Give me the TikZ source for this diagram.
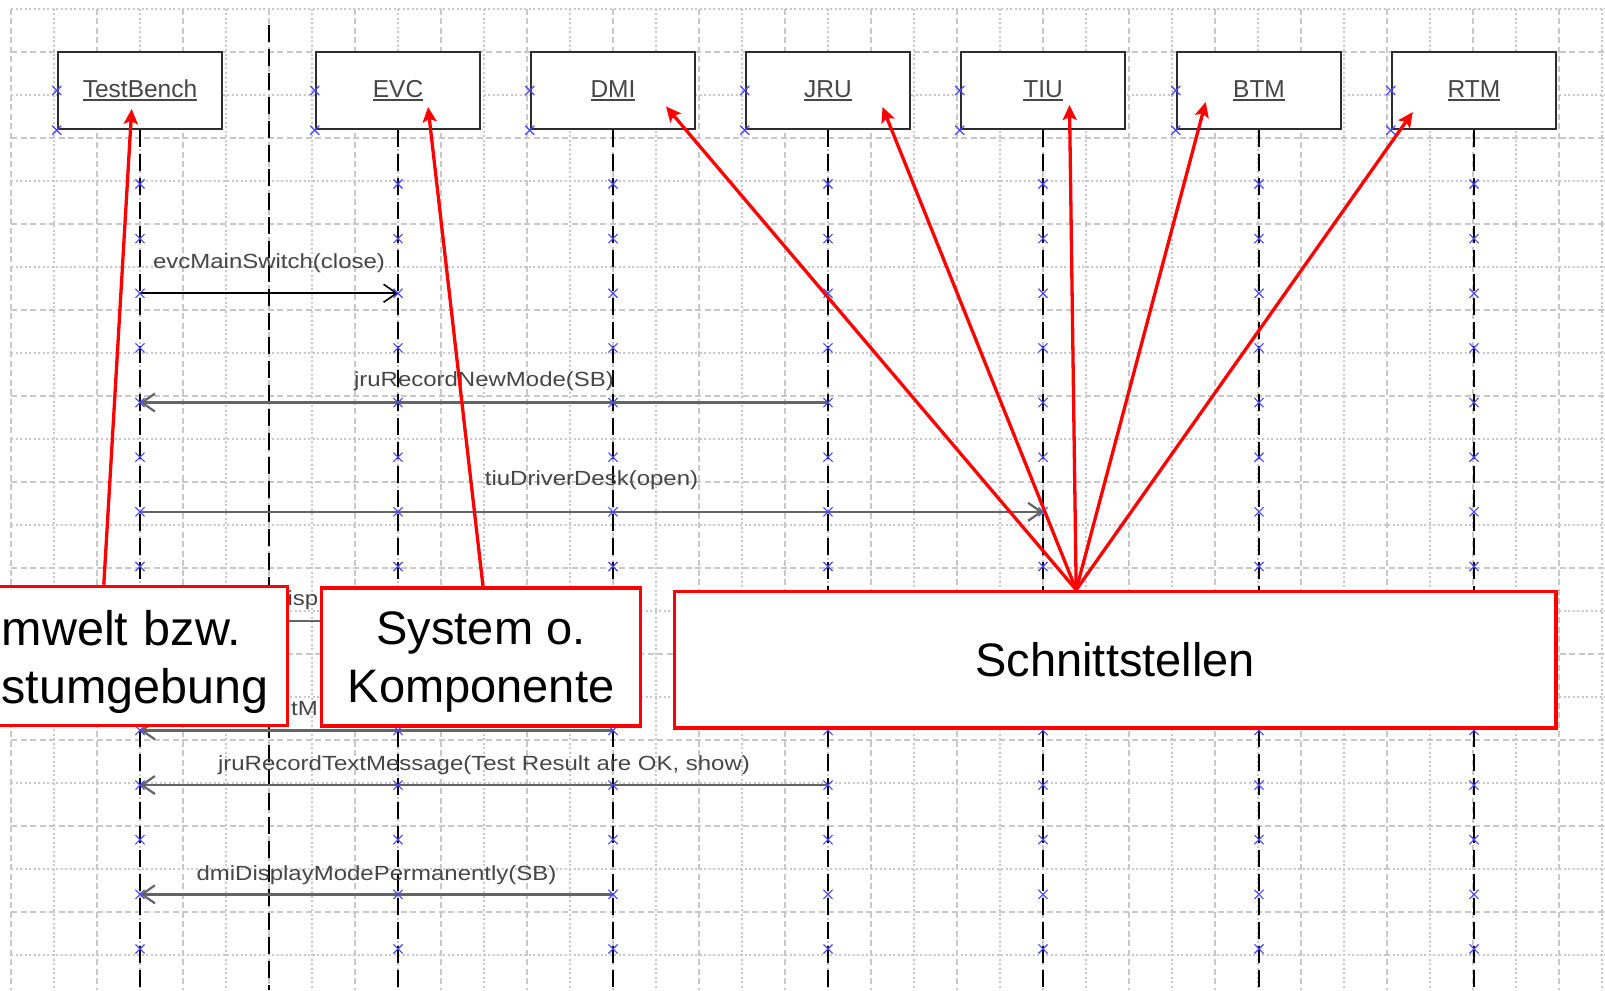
\documentclass[tikz,border=0pt]{standalone}
\usepackage{fontspec}
\setmainfont{Liberation Sans}
\newfontfamily\msgfont[FakeStretch=1.17]{Liberation Sans}
\usetikzlibrary{arrows.meta,shapes.misc,calc}

\definecolor{gridgray}{RGB}{200,200,200}
\definecolor{marker}{RGB}{70,70,255}
\definecolor{msggray}{RGB}{100,100,100}
\definecolor{labelgray}{RGB}{70,70,70}
\definecolor{boxgray}{RGB}{45,45,45}
\definecolor{notered}{RGB}{255,0,0}

% underlined participant names
\newsavebox\ulbox
\newcommand\uline[1]{\sbox\ulbox{#1}\rlap{\rule[-3.5pt]{\wd\ulbox}{2pt}}\usebox\ulbox}

\tikzset{
  gridmajor/.style={gridgray, line width=1.3pt, dash pattern=on 6pt off 3.5pt},
  gridminor/.style={gridgray, line width=1.3pt, dash pattern=on 2pt off 2.5pt},
  partbox/.style={draw=boxgray, line width=2.5pt, fill=white,
    minimum width=164pt, minimum height=77pt, inner sep=0pt,
    font=\fontsize{24.5}{29}\selectfont, text=labelgray},
  lifeline/.style={black, line width=2pt, dash pattern=on 17pt off 7pt},
  msgblack/.style={black, line width=1.6pt,
    -{Straight Barb[length=13pt,width=18pt,line width=1.6pt]}},
  msg/.style={msggray, line width=2.6pt,
    -{Straight Barb[length=13pt,width=18pt,line width=2.2pt]}},
  msglabel/.style={anchor=base, inner sep=0pt, text=labelgray,
    font={\fontsize{20.5}{24}\msgfont}},
  xmark/.style={cross out, draw=marker, line width=1.1pt, minimum size=8pt, inner sep=0pt},
  notebox/.style={draw=notered, line width=3.5pt, fill=white, inner sep=0pt},
  notetext/.style={inner sep=0pt, text=black, font=\fontsize{47}{58}\selectfont},
  notearrow/.style={notered, line width=3.3pt,
    -{Stealth[length=15pt,width=14pt,inset=3pt]}},
}

\begin{document}
\begin{tikzpicture}[x=1pt,y=-1pt]
\useasboundingbox (0,0) rectangle (1605,990);
\clip (0,0) rectangle (1605,990);
\fill[white] (0,0) rectangle (1605,990);

% background grid
\foreach \i in {0,...,37}{
  \pgfmathsetmacro\gx{11+43*\i}
  \ifodd\i\relax
    \draw[gridminor] (\gx,9) -- (\gx,990);
  \else
    \draw[gridmajor] (\gx,9) -- (\gx,990);
  \fi
}
\foreach \j in {0,...,22}{
  \pgfmathsetmacro\gy{9+43*\j}
  \ifodd\j\relax
    \draw[gridmajor] (11,\gy) -- (1605,\gy);
  \else
    \draw[gridminor] (11,\gy) -- (1605,\gy);
  \fi
}

% separator between test environment and system
\coordinate (septop) at (269,25);
\coordinate (sepbot) at (269,990);
\draw[lifeline, line width=2.5pt] (septop) -- (sepbot);

% participants
\node[partbox] (tb)  at (140,90.5)  {\uline{TestBench}};
\node[partbox] (evc) at (398,90.5)  {\uline{EVC}};
\node[partbox] (dmi) at (613,90.5)  {\uline{DMI}};
\node[partbox] (jru) at (828,90.5)  {\uline{JRU}};
\node[partbox] (tiu) at (1043,90.5) {\uline{TIU}};
\node[partbox] (btm) at (1259,90.5) {\uline{BTM}};
\node[partbox] (rtm) at (1474,90.5) {\uline{RTM}};

% lifelines and their anchor points
\foreach \p in {tb,evc,dmi,jru,tiu,btm,rtm}{
  \draw[lifeline] (\p.south) -- (\p.south |- sepbot);
  \foreach \k in {0,...,14}{
    \path (\p.center) ++(0,{93.5+54.64*\k}) coordinate (\p-\k);
  }
}

% messages
\draw[msgblack] (tb-2) -- (evc-2);
\path ($(tb-2)!.5!(evc-2)$) ++(0,-25) node[msglabel] (m1) {evcMainSwitch(close)};

\draw[msg] (jru-4) -- (tb-4);
\path ($(tb-4)!.5!(jru-4)$) ++(0,-15.6) node[msglabel] (m2) {jruRecordNewMode(SB)};

\draw[msg] (tb-6) -- (tiu-6);
\path ($(tb-6)!.5!(tiu-6)$) ++(0,-26) node[msglabel] (m3) {tiuDriverDesk(open)};

% the next two labels are mostly covered by the annotation boxes
\draw[msg] (dmi-8) -- (tb-8);
\path (tb-8) ++(130,-16) node[msglabel, anchor=base west] (m4) {Disp};

\draw[msg] (dmi-10) -- (tb-10);
\path (tb-10) ++(151,-15) node[msglabel, anchor=base west] (m5) {tM};

\draw[msg] (jru-11) -- (tb-11);
\path ($(tb-11)!.5!(jru-11)$) ++(0,-15) node[msglabel] (m6) {jruRecordTextMessage(Test Result are OK, show)};

\draw[msg] (dmi-13) -- (tb-13);
\path ($(tb-13)!.5!(dmi-13)$) ++(0,-14.3) node[msglabel] (m7) {dmiDisplayModePermanently(SB)};

% connection point markers
\foreach \p in {tb,evc,dmi,jru,tiu,btm,rtm}{
  \node[xmark] (x-\p-w) at (\p.west) {};
  \node[xmark] (x-\p-sw) at (\p.south west) {};
  \foreach \k in {0,...,14}{
    \node[xmark] (x-\p-\k) at (\p-\k) {};
  }
}

% annotation boxes
\node[notebox, minimum width=367.6pt, minimum height=139pt] (env) at (103.8,656) {};
\node[notetext, anchor=west, align=left, font=\fontsize{48.5}{58}\selectfont]
  (envtext) at (1.5,661.6) {mwelt\hspace{2pt} bzw.\\stumgebung};

\node[notebox, minimum width=319pt, minimum height=137.7pt] (sys) at (481,656.9) {};
\node[notetext, align=center] (systext) at (481,661.6) {System o.\\Komponente};

\node[notebox, notetext, draw=notered, line width=3.5pt, fill=white,
      minimum width=881.6pt, minimum height=136.4pt] (ifc) at (1115.2,659.8) {Schnittstellen};

% annotation arrows
\coordinate (tbtip)  at (131.7,109);
\coordinate (evctip) at (428,107);
\coordinate (dmitip) at (666,106.5);
\coordinate (jrutip) at (882.5,107);
\coordinate (tiutip) at (1069.5,105);
\coordinate (btmtip) at (1205.7,102);
\coordinate (rtmtip) at (1412.8,112);
\coordinate (apex) at ([xshift=-39pt]ifc.north);

\draw[notearrow] (env.north) -- (tbtip);
\draw[notearrow] ([xshift=2pt]sys.north) -- (evctip);
\foreach \t in {dmitip,jrutip,tiutip,btmtip,rtmtip}{
  \draw[notearrow] (apex) -- (\t);
}
\end{tikzpicture}
\end{document}
